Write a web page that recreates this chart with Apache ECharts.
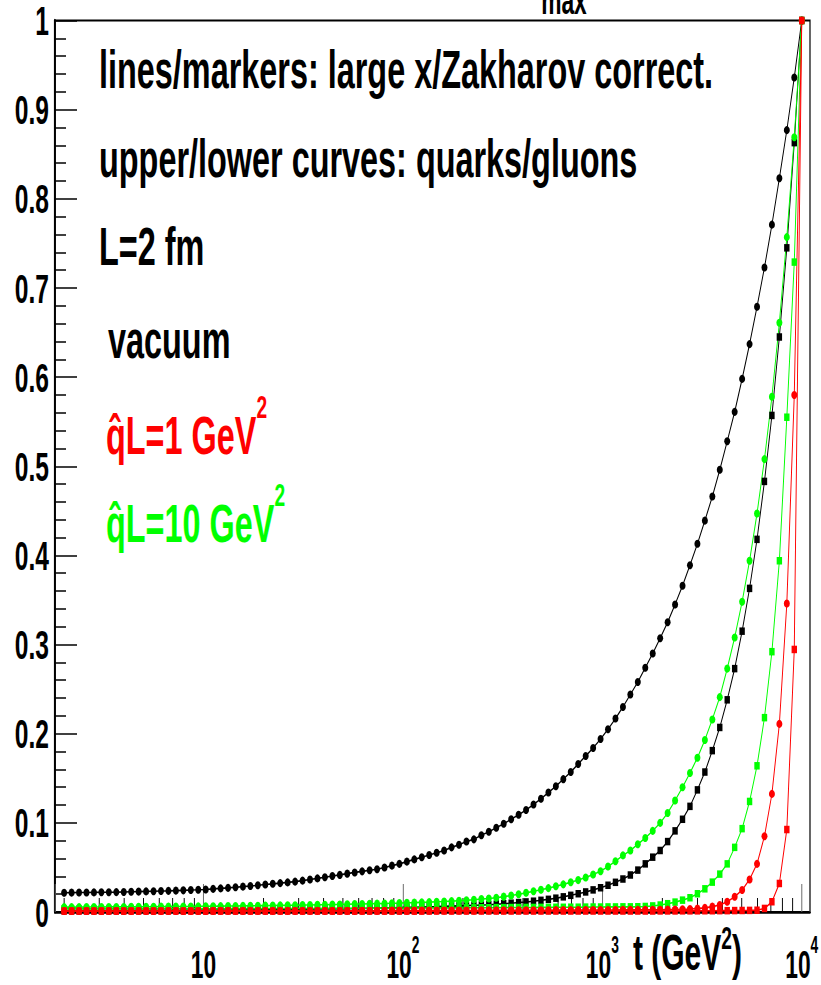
<!DOCTYPE html>
<html>
<head>
<meta charset="utf-8">
<script src="https://cdn.jsdelivr.net/npm/echarts@6/dist/echarts.min.js"></script>
<style>
html,body{margin:0;padding:0;background:#fff;overflow:hidden;width:821px;height:985px;}
#wrap{width:821px;height:985px;overflow:hidden;position:relative;background:#fff;}
#chart{height:985px;position:absolute;left:0;top:0;transform-origin:0 0;}
</style>
</head>
<body>
<div id="wrap"><div id="chart"></div></div>
<script>
// ---------------- data ----------------
// t grid (GeV^2), log spaced sample points of the curves
const tValues = [
  2,2.1797,2.3755,2.5889,2.8215,3.075,3.3512,3.6523,3.9804,4.338,
  4.7277,5.1524,5.6153,6.1198,6.6696,7.2688,7.9218,8.6335,9.4091,10.254,
  11.176,12.18,13.274,14.466,15.766,17.182,18.726,20.408,22.242,24.24,
  26.418,28.791,31.378,34.197,37.269,40.617,44.266,48.243,52.577,57.3,
  62.448,68.058,74.172,80.836,88.098,96.013,104.64,114.04,124.29,135.45,
  147.62,160.88,175.33,191.08,208.25,226.96,247.35,269.57,293.79,320.18,
  348.95,380.3,414.47,451.71,492.29,536.52,584.72,637.25,694.5,756.89,
  824.89,898.99,979.76,1067.8,1163.7,1268.3,1382.2,1506.4,1641.7,1789.2,
  1949.9,2125.1,2316,2524.1,2750.9,2998,3267.3,3560.8,3880.7,4229.3,
  4609.3,5023.4,5474.7,5966.6,6502.6,7086.8,7723.5,8417.4,9173.6,10000
];
// vacuum, quarks (black circles)
const vacQuark = [
  0.0216,0.0217,0.0218,0.0219,0.0220,0.0221,0.0222,0.0223,0.0225,0.0227,
  0.0229,0.0231,0.0233,0.0235,0.0237,0.0240,0.0243,0.0246,0.0249,0.0253,
  0.0259,0.0265,0.0271,0.0278,0.0285,0.0292,0.0300,0.0308,0.0316,0.0324,
  0.0332,0.0341,0.0352,0.0364,0.0377,0.0390,0.0403,0.0416,0.0430,0.0444,
  0.0456,0.0468,0.048,0.050,0.052,0.054,0.0565,0.059,0.0615,0.064,
  0.0665,0.069,0.0725,0.0755,0.079,0.0815,0.086,0.090,0.0945,0.099,
  0.104,0.109,0.1145,0.1205,0.127,0.134,0.141,0.149,0.157,0.166,
  0.175,0.184,0.194,0.205,0.217,0.230,0.244,0.258,0.274,0.290,
  0.307,0.325,0.345,0.366,0.389,0.413,0.439,0.466,0.496,0.528,
  0.561,0.598,0.637,0.679,0.723,0.771,0.823,0.877,0.936,1.0
];
// vacuum, gluons (black squares)
const vacGluon = [
  0.0015,0.0015,0.0015,0.0016,0.0016,0.0016,0.0017,0.0017,0.0017,0.0018,
  0.0018,0.0018,0.0019,0.0019,0.0020,0.0020,0.0020,0.0021,0.0021,0.0022,
  0.0022,0.0023,0.0023,0.0024,0.0024,0.0025,0.0026,0.0026,0.0027,0.0028,
  0.0029,0.0030,0.0031,0.0032,0.0033,0.0034,0.0035,0.0036,0.0037,0.0039,
  0.0040,0.0042,0.0044,0.0046,0.0048,0.0050,0.0052,0.0054,0.0056,0.0058,
  0.0060,0.0063,0.0066,0.0069,0.0072,0.0075,0.0078,0.0082,0.0087,0.0093,
  0.0099,0.0106,0.0113,0.0121,0.0131,0.0142,0.0155,0.0170,0.0187,0.0205,
  0.0225,0.0248,0.0272,0.0300,0.0333,0.0370,0.0415,0.0470,0.0540,0.0615,
  0.0690,0.0790,0.0910,0.1040,0.1185,0.1370,0.1570,0.1810,0.2070,0.2380,
  0.2730,0.3150,0.3630,0.4180,0.4830,0.5570,0.6450,0.7450,0.8630,1.0
];
// qhat L = 10 GeV^2, quarks (green circles)
const q10Quark = [
  0.0055,0.0055,0.0055,0.0056,0.0056,0.0056,0.0057,0.0057,0.0057,0.0058,
  0.0058,0.0059,0.0059,0.0060,0.0060,0.0061,0.0061,0.0062,0.0063,0.0064,
  0.0065,0.0066,0.0067,0.0068,0.0069,0.0070,0.0071,0.0072,0.0073,0.0074,
  0.0075,0.0076,0.0078,0.0079,0.0081,0.0082,0.0084,0.0085,0.0087,0.0089,
  0.0090,0.0092,0.0094,0.0096,0.0098,0.0100,0.0103,0.0105,0.0108,0.0111,
  0.0115,0.0118,0.0122,0.0127,0.0132,0.0138,0.0145,0.0152,0.0160,0.0172,
  0.0185,0.0199,0.0215,0.0232,0.0250,0.0268,0.0288,0.0310,0.0333,0.0358,
  0.0387,0.0420,0.0458,0.051,0.057,0.0635,0.069,0.076,0.083,0.091,
  0.100,0.111,0.125,0.140,0.156,0.173,0.193,0.216,0.241,0.273,
  0.308,0.348,0.394,0.447,0.508,0.578,0.661,0.757,0.869,1.0
];
// qhat L = 10 GeV^2, gluons (green squares)
const q10Gluon = [
  0.0035,0.0035,0.0035,0.0035,0.0035,0.0035,0.0035,0.0035,0.0035,0.0035,
  0.0035,0.0035,0.0036,0.0036,0.0036,0.0036,0.0036,0.0037,0.0037,0.0037,
  0.0037,0.0037,0.0038,0.0038,0.0038,0.0038,0.0038,0.0039,0.0039,0.0039,
  0.0039,0.0040,0.0040,0.0040,0.0040,0.0041,0.0041,0.0041,0.0042,0.0042,
  0.0042,0.0042,0.0043,0.0043,0.0043,0.0044,0.0044,0.0044,0.0045,0.0045,
  0.0045,0.0046,0.0046,0.0047,0.0047,0.0047,0.0048,0.0048,0.0049,0.0049,
  0.0050,0.0050,0.0051,0.0051,0.0052,0.0052,0.0053,0.0053,0.0054,0.0054,
  0.0055,0.0056,0.0056,0.0057,0.0057,0.0058,0.0058,0.0059,0.0062,0.0068,
  0.0078,0.0093,0.0111,0.0133,0.0160,0.0205,0.0260,0.0335,0.0425,0.0540,
  0.0725,0.0935,0.124,0.164,0.218,0.292,0.394,0.555,0.729,1.0
];
// qhat L = 1 GeV^2, quarks (red circles)
const q1Quark = [
  0.0012,0.0012,0.0012,0.0012,0.0012,0.0012,0.0012,0.0012,0.0012,0.0012,
  0.0012,0.0012,0.0012,0.0012,0.0012,0.0012,0.0012,0.0012,0.0012,0.0012,
  0.0013,0.0013,0.0013,0.0013,0.0013,0.0013,0.0013,0.0013,0.0013,0.0013,
  0.0013,0.0013,0.0013,0.0013,0.0013,0.0013,0.0013,0.0013,0.0013,0.0013,
  0.0014,0.0014,0.0014,0.0014,0.0015,0.0015,0.0015,0.0015,0.0016,0.0016,
  0.0016,0.0016,0.0017,0.0017,0.0017,0.0017,0.0018,0.0018,0.0018,0.0018,
  0.0019,0.0019,0.0019,0.0020,0.0020,0.0020,0.0021,0.0021,0.0021,0.0022,
  0.0022,0.0022,0.0023,0.0023,0.0023,0.0024,0.0024,0.0024,0.0025,0.0025,
  0.0026,0.0027,0.0028,0.0030,0.0033,0.0038,0.0046,0.0060,0.0078,0.0115,
  0.0171,0.0246,0.0365,0.054,0.085,0.1325,0.211,0.346,0.58,1.0
];
// qhat L = 1 GeV^2, gluons (red squares)
const q1Gluon = [
  0.0010,0.0010,0.0010,0.0010,0.0010,0.0010,0.0010,0.0010,0.0010,0.0010,
  0.0010,0.0010,0.0010,0.0010,0.0010,0.0010,0.0010,0.0010,0.0010,0.0010,
  0.0010,0.0010,0.0010,0.0010,0.0010,0.0010,0.0010,0.0010,0.0010,0.0010,
  0.0010,0.0010,0.0010,0.0010,0.0010,0.0010,0.0010,0.0010,0.0010,0.0010,
  0.0010,0.0010,0.0010,0.0010,0.0010,0.0010,0.0010,0.0010,0.0010,0.0010,
  0.0011,0.0011,0.0011,0.0011,0.0011,0.0011,0.0011,0.0011,0.0011,0.0011,
  0.0011,0.0011,0.0011,0.0011,0.0011,0.0011,0.0011,0.0011,0.0011,0.0011,
  0.0011,0.0011,0.0011,0.0011,0.0011,0.0011,0.0011,0.0011,0.0011,0.0011,
  0.0012,0.0012,0.0012,0.0013,0.0013,0.0013,0.0014,0.0014,0.0015,0.0015,
  0.0016,0.0017,0.0018,0.0020,0.0040,0.0115,0.032,0.0925,0.2945,1.0
];
// axis ticks / labels
const xDecades = [10, 100, 1000, 10000];
const xDecadeSup = ['', '2', '3', '4'];
const xMinorTicks = [2,3,4,5,6,7,8,9,20,30,40,50,60,70,80,90,200,300,400,500,600,700,800,900,2000,3000,4000,5000,6000,7000,8000,9000];
const textLines = ['lines/markers: large x/Zakharov correct.', 'upper/lower curves: quarks/gluons', 'L=2 fm', 'vacuum'];
const mediumLabels = ['q\u0302L=1 GeV', 'q\u0302L=10 GeV'];

// ---------------- layout ----------------
// The original figure is horizontally compressed; draw wide, then squeeze.
const SX = 0.60;
const W = Math.round(821 / SX);
const FF = '"Liberation Sans", Arial, Helvetica, sans-serif';
const dom = document.getElementById('chart');
dom.style.width = W + 'px';
dom.style.transform = 'scaleX(' + (821 / W) + ')';

const chart = echarts.init(dom, null, {renderer: 'svg', width: W, height: 985});

function lineSeries(name, vals, color, symbol, size) {
  return {
    type: 'line', name: name,
    data: tValues.map((t, i) => [t, vals[i]]),
    symbol: symbol, symbolSize: size, showSymbol: true, showAllSymbol: true,
    lineStyle: {color: color, width: 1.6},
    itemStyle: {color: color},
    animation: false, silent: true, z: 3
  };
}

const bold = {fontWeight: 'bold', fontFamily: FF};

const option = {
  backgroundColor: '#fff',
  animation: false,
  grid: {left: 55 / SX, right: 11 / SX, top: 17, bottom: 73, show: true,
         borderColor: '#000', borderWidth: 2, backgroundColor: 'transparent', containLabel: false},
  xAxis: {
    type: 'log', logBase: 10, min: 1.8, max: 11000,
    axisLine: {show: true, lineStyle: {color: '#000', width: 2.5}},
    axisTick: {show: true, inside: true, length: 28, lineStyle: {color: '#666', width: 1.6}},
    splitLine: {show: false},
    axisLabel: {
      margin: 22,
      formatter: function (v) {
        const lv = Math.log10(v);
        const e = Math.round(lv);
        if (Math.abs(lv - e) > 1e-6) return '';
        const k = xDecades.indexOf(Math.pow(10, e));
        if (k < 0) return '';
        return '{b|10}' + (xDecadeSup[k] ? '{s|' + xDecadeSup[k] + '}' : '');
      },
      rich: {
        b: Object.assign({fontSize: 38, lineHeight: 50, color: '#000', verticalAlign: 'bottom'}, bold),
        s: Object.assign({fontSize: 23, lineHeight: 22, color: '#000', verticalAlign: 'top'}, bold)
      }
    },
    name: '{n|t (GeV}{s|2}{n|)}',
    nameLocation: 'end',
    nameGap: (742 - 810) / SX,
    nameTextStyle: {
      align: 'right', verticalAlign: 'top', padding: [10, 0, 0, 0],
      rich: {
        n: Object.assign({fontSize: 50, lineHeight: 56, color: '#000', verticalAlign: 'bottom'}, bold),
        s: Object.assign({fontSize: 32, lineHeight: 30, color: '#000', verticalAlign: 'top'}, bold)
      }
    }
  },
  yAxis: {
    type: 'value', min: 0, max: 1, interval: 0.1,
    axisLine: {show: true, lineStyle: {color: '#000', width: 3.3}},
    axisTick: {show: true, inside: true, length: 22 / SX, lineStyle: {color: '#000', width: 1.5}},
    minorTick: {show: true, splitNumber: 5, length: 11 / SX, lineStyle: {color: '#000', width: 1.5}},
    splitLine: {show: false},
    minorSplitLine: {show: false},
    axisLabel: Object.assign({margin: 6 / SX, fontSize: 41, color: '#000'}, bold)
  },
  graphic: [
    {type: 'text', x: 99 / SX, y: 88 - 0.35 * 54, silent: true,
     style: Object.assign({text: textLines[0], fontSize: 54, fill: '#000', align: 'left', verticalAlign: 'middle'}, bold)},
    {type: 'text', x: 99 / SX, y: 177 - 0.35 * 54, silent: true,
     style: Object.assign({text: textLines[1], fontSize: 54, fill: '#000', align: 'left', verticalAlign: 'middle'}, bold)},
    {type: 'text', x: 99 / SX, y: 265 - 0.35 * 54, silent: true,
     style: Object.assign({text: textLines[2], fontSize: 54, fill: '#000', align: 'left', verticalAlign: 'middle'}, bold)},
    {type: 'text', x: 108 / SX, y: 358 - 0.35 * 54, silent: true,
     style: Object.assign({text: textLines[3], fontSize: 54, fill: '#000', align: 'left', verticalAlign: 'middle'}, bold)},
    {type: 'text', x: 106 / SX, y: 391, silent: true,
     style: {text: '{n|' + mediumLabels[0] + '}{s|2}', align: 'left', verticalAlign: 'top',
       rich: {
         n: Object.assign({fontSize: 54, lineHeight: 71, fill: '#ff0000', verticalAlign: 'bottom'}, bold),
         s: Object.assign({fontSize: 32, lineHeight: 32, fill: '#ff0000', verticalAlign: 'top'}, bold)
       }}},
    {type: 'text', x: 106 / SX, y: 479, silent: true,
     style: {text: '{n|' + mediumLabels[1] + '}{s|2}', align: 'left', verticalAlign: 'top',
       rich: {
         n: Object.assign({fontSize: 54, lineHeight: 71, fill: '#00ff00', verticalAlign: 'bottom'}, bold),
         s: Object.assign({fontSize: 32, lineHeight: 32, fill: '#00ff00', verticalAlign: 'top'}, bold)
       }}},
    {type: 'text', x: 541 / SX, y: 15 - 0.35 * 38, silent: true,
     style: Object.assign({text: 'max', fontSize: 38, fill: '#000', align: 'left', verticalAlign: 'middle'}, bold)}
  ],
  series: [
    {
      type: 'custom', name: 'minor x ticks', silent: true, z: 1, animation: false,
      data: xMinorTicks.map(v => [v, 0]),
      encode: {x: 0, y: 1},
      renderItem: function (params, api) {
        const p = api.coord([api.value(0), api.value(1)]);
        return {type: 'line', shape: {x1: p[0], y1: p[1], x2: p[0], y2: p[1] - 14},
                style: {stroke: '#000', lineWidth: 1.6}};
      }
    },
    lineSeries('vacuum quarks', vacQuark, '#000000', 'circle', [10, 8]),
    lineSeries('vacuum gluons', vacGluon, '#000000', 'rect', [9, 7.5]),
    lineSeries('qL=10 quarks', q10Quark, '#00ff00', 'circle', [10, 8]),
    lineSeries('qL=10 gluons', q10Gluon, '#00ff00', 'rect', [9, 7.5]),
    lineSeries('qL=1 quarks', q1Quark, '#ff0000', 'circle', [10, 8]),
    lineSeries('qL=1 gluons', q1Gluon, '#ff0000', 'rect', [9, 7.5])
  ]
};
chart.setOption(option);
</script>
</body>
</html>
